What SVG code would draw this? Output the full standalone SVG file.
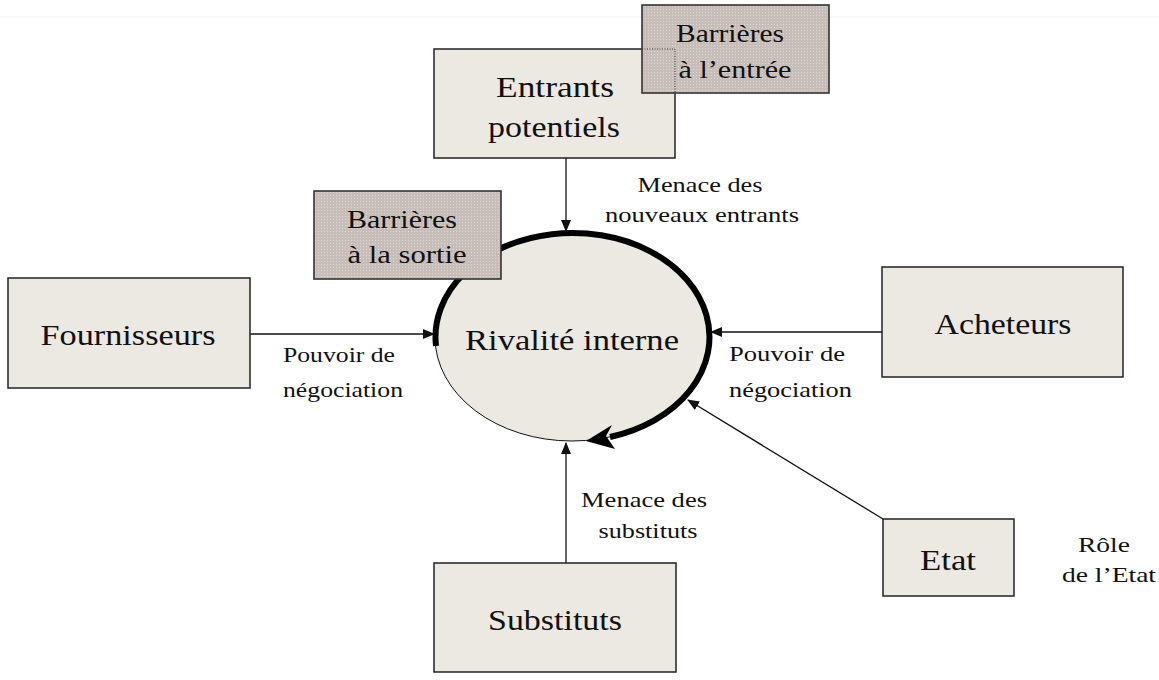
<svg xmlns="http://www.w3.org/2000/svg" width="1159" height="680" viewBox="0 0 1159 680">
<style>
.box{fill:#ece8e2;stroke:#222;stroke-width:1.5}
.bar{fill:url(#dots);stroke:#333;stroke-width:1.6}
.big{font-family:"Liberation Serif","Times New Roman",serif;font-size:30px;fill:#111;text-anchor:middle}
.mid{font-family:"Liberation Serif","Times New Roman",serif;font-size:26px;fill:#111;text-anchor:middle}
.sm{font-family:"Liberation Serif","Times New Roman",serif;font-size:22px;fill:#111}
.smc{font-family:"Liberation Serif","Times New Roman",serif;font-size:22px;fill:#111;text-anchor:middle}
.con{stroke:#111;stroke-width:1.3;fill:none}
</style>
<defs>
<pattern id="dots" width="3" height="3" patternUnits="userSpaceOnUse">
<rect width="3" height="3" fill="#c7beba"/>
<rect width="1" height="1" fill="#ddd6d3"/>
</pattern>
<marker id="ah" markerWidth="12" markerHeight="10" refX="11" refY="5" orient="auto" markerUnits="userSpaceOnUse">
<path d="M0,0 L12,5 L0,10 Z" fill="#111"/>
</marker>
</defs>
<rect width="1159" height="680" fill="#fff"/>
<line x1="0" y1="17" x2="1159" y2="17" stroke="#f0f0f0" stroke-width="1"/>

<g id="rivalite">
<ellipse cx="572" cy="337" rx="137" ry="104" fill="#ece8e2" stroke="#111" stroke-width="1"/>
<path d="M436,346 A137,104 0 1 1 610,437" fill="none" stroke="#000" stroke-width="6"/>
<polygon points="586,441 612,425 606,436 615,449" fill="#000"/>
<text class="big" x="572" y="350" textLength="214" lengthAdjust="spacingAndGlyphs">Rivalité interne</text>
</g>

<g id="connectors">
<line class="con" x1="566" y1="158" x2="566" y2="231" marker-end="url(#ah)"/>
<line class="con" x1="250" y1="334" x2="434" y2="334" marker-end="url(#ah)"/>
<line class="con" x1="882" y1="332" x2="711" y2="332" marker-end="url(#ah)"/>
<line class="con" x1="566" y1="563" x2="566" y2="443" marker-end="url(#ah)"/>
<line class="con" x1="883" y1="519" x2="688" y2="400" marker-end="url(#ah)"/>
<text class="sm" x="283" y="362" textLength="112" lengthAdjust="spacingAndGlyphs">Pouvoir de</text>
<text class="sm" x="283" y="397" textLength="120" lengthAdjust="spacingAndGlyphs">négociation</text>
<text class="sm" x="729" y="361" textLength="116" lengthAdjust="spacingAndGlyphs">Pouvoir de</text>
<text class="sm" x="729" y="397" textLength="123" lengthAdjust="spacingAndGlyphs">négociation</text>
<text class="smc" x="700" y="192" textLength="125" lengthAdjust="spacingAndGlyphs">Menace des</text>
<text class="smc" x="702" y="222" textLength="194" lengthAdjust="spacingAndGlyphs">nouveaux entrants</text>
<text class="smc" x="644" y="507" textLength="126" lengthAdjust="spacingAndGlyphs">Menace des</text>
<text class="smc" x="648" y="538" textLength="99" lengthAdjust="spacingAndGlyphs">substituts</text>
<text class="smc" x="1104" y="552" textLength="52" lengthAdjust="spacingAndGlyphs">Rôle</text>
<text class="smc" x="1109" y="582" textLength="94" lengthAdjust="spacingAndGlyphs">de l’Etat</text>
</g>

<g id="entrants">
<rect class="box" x="434" y="49" width="241" height="109"/>
<text class="big" x="555" y="97" textLength="118" lengthAdjust="spacingAndGlyphs">Entrants</text>
<text class="big" x="554" y="137" textLength="132" lengthAdjust="spacingAndGlyphs">potentiels</text>
</g>

<g id="barrieres-entree">
<rect class="bar" x="642" y="5" width="187" height="88"/>
<path d="M642,49 H675 V93" fill="none" stroke="#333" stroke-width="1" stroke-dasharray="1,1.5"/>
<text class="mid" x="730" y="42" textLength="108" lengthAdjust="spacingAndGlyphs">Barrières</text>
<text class="mid" x="735" y="78" textLength="113" lengthAdjust="spacingAndGlyphs">à l’entrée</text>
</g>

<g id="barrieres-sortie">
<rect class="bar" x="314" y="191" width="187" height="88"/>
<text class="mid" x="402" y="228" textLength="110" lengthAdjust="spacingAndGlyphs">Barrières</text>
<text class="mid" x="407" y="263" textLength="119" lengthAdjust="spacingAndGlyphs">à la sortie</text>
</g>

<g id="fournisseurs">
<rect class="box" x="8" y="278" width="242" height="110"/>
<text class="big" x="128" y="345" textLength="175" lengthAdjust="spacingAndGlyphs">Fournisseurs</text>
</g>

<g id="acheteurs">
<rect class="box" x="882" y="267" width="241" height="110"/>
<text class="big" x="1003" y="334" textLength="137" lengthAdjust="spacingAndGlyphs">Acheteurs</text>
</g>

<g id="substituts">
<rect class="box" x="434" y="563" width="242" height="109"/>
<text class="big" x="555" y="630" textLength="134" lengthAdjust="spacingAndGlyphs">Substituts</text>
</g>

<g id="etat">
<rect class="box" x="883" y="519" width="131" height="77"/>
<text class="big" x="948" y="570" textLength="56" lengthAdjust="spacingAndGlyphs">Etat</text>
</g>
</svg>
